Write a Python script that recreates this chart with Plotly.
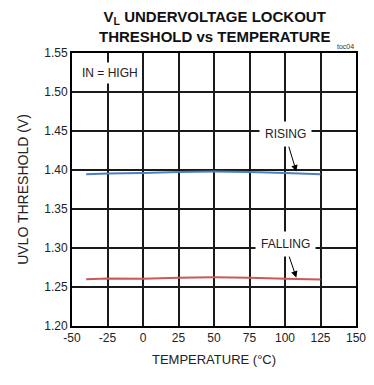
import plotly.graph_objects as go

# Temperature sweep (°C) and measured UVLO thresholds (V)
temperature = [-40, -25, 0, 25, 50, 75, 100, 125]
rising_v = [1.3945, 1.3955, 1.396, 1.3975, 1.398, 1.3975, 1.396, 1.3945]
falling_v = [1.260, 1.261, 1.2605, 1.262, 1.2625, 1.262, 1.2605, 1.2595]

x_ticks = [-50, -25, 0, 25, 50, 75, 100, 125, 150]
y_ticks = [1.20, 1.25, 1.30, 1.35, 1.40, 1.45, 1.50, 1.55]

FONT = "Liberation Sans, Arial, sans-serif"
TXT = "#222222"

fig = go.Figure()
fig.add_trace(go.Scatter(x=temperature, y=rising_v, mode="lines",
                         line=dict(color="#4a7fc4", width=2), showlegend=False))
fig.add_trace(go.Scatter(x=temperature, y=falling_v, mode="lines",
                         line=dict(color="#c8585a", width=2), showlegend=False))

axis_common = dict(showgrid=True, gridcolor="#1a1a1a", gridwidth=1.5, zeroline=False,
                   showline=True, linecolor="black", linewidth=2, mirror=True,
                   ticks="", tickfont=dict(family=FONT, size=12, color=TXT))

fig.update_xaxes(range=[-50, 150], tickvals=x_ticks,
                 ticktext=[str(v) for v in x_ticks], ticklabeloverflow="allow",
                 title=dict(text="TEMPERATURE (°C)", font=dict(family=FONT, size=13, color=TXT),
                            standoff=10),
                 **axis_common)
fig.update_yaxes(range=[1.20, 1.55], tickvals=y_ticks,
                 ticktext=[f"{v:.2f}" for v in y_ticks],
                 title=dict(text="UVLO THRESHOLD (V)", font=dict(family=FONT, size=14, color=TXT),
                            standoff=12),
                 **axis_common)

label_font = dict(family=FONT, size=12, color=TXT)
annotations = [
    dict(x=-23, y=1.524, text="IN = HIGH", showarrow=False, bgcolor="white",
         font=label_font, borderpad=3),
    # Curve labels with arrows pointing at the traces
    dict(x=108, y=1.398, ax=100, ay=1.446, axref="x", ayref="y", text="RISING",
         showarrow=True, arrowhead=2, arrowsize=1.3, arrowwidth=1, arrowcolor="black",
         bgcolor="white", borderpad=5, font=label_font),
    dict(x=108, y=1.262, ax=100, ay=1.305, axref="x", ayref="y", text="FALLING",
         showarrow=True, arrowhead=2, arrowsize=1.3, arrowwidth=1, arrowcolor="black",
         bgcolor="white", borderpad=5, font=label_font),
    dict(x=1.0, y=1.0, xref="paper", yref="paper", xanchor="right", yanchor="bottom",
         text="toc04", showarrow=False, yshift=1,
         font=dict(family=FONT, size=7, color="#333333")),
    # Two-line bold chart title
    dict(x=0.5, y=1.0, xref="paper", yref="paper", xanchor="center", yanchor="bottom",
         yshift=6, showarrow=False, align="center",
         text="<b>V<sub>L</sub> UNDERVOLTAGE LOCKOUT<br>THRESHOLD vs TEMPERATURE</b>",
         font=dict(family=FONT, size=15, color="#111111")),
]

fig.update_layout(
    width=374, height=385,
    margin=dict(l=72, r=8, t=53, b=59),
    paper_bgcolor="white", plot_bgcolor="white",
    annotations=annotations,
)

fig.write_html("out.html")
